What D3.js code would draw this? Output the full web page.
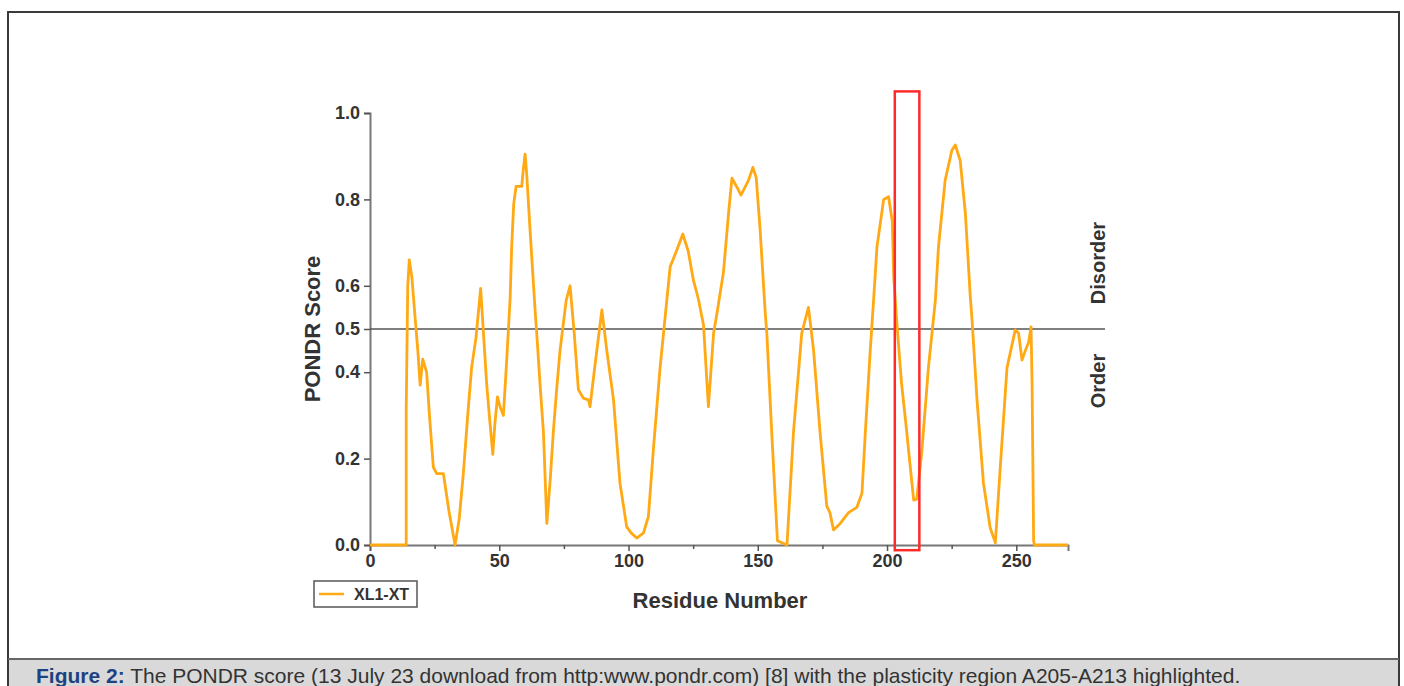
<!DOCTYPE html>
<html lang="en">
<head>
<meta charset="utf-8">
<title>PONDR score</title>
<script src="https://cdn.jsdelivr.net/npm/d3@7"></script>
<style>
  body { margin: 0; background: #fff; }
  svg { display: block; font-family: "Liberation Sans", Arial, Helvetica, sans-serif; }
</style>
</head>
<body>
<script>
// residue positions and PONDR scores
var residues = [
  0, 14, 14, 14.6, 15.2, 16.2, 17.4, 18.5, 19.4, 20.4,
  21.9, 23, 24.5, 25.8, 28.4, 30.5, 32.9, 34.5, 36.1, 37.8,
  39.3, 41, 42.8, 44, 45.1, 46.3, 47.5, 48.3, 49.3, 50.3,
  51.6, 52.8, 54.2, 54.8, 55.6, 56.5, 58.7, 59.3, 60, 60.6,
  61.9, 63.9, 64.5, 65.8, 67.1, 68.4, 69.7, 70.9, 72.2, 73.5,
  75.9, 77.4, 79, 80.6, 82.5, 84.5, 85.1, 87.1, 89.7, 91.6,
  94.2, 96.7, 99.3, 101, 103.2, 105.8, 107.7, 109.6, 112.2, 114.2,
  116.1, 118.7, 121, 123.1, 125.1, 127, 129, 130.9, 132.9, 134.2,
  136.7, 138.7, 140, 141.8, 143.5, 146.4, 148.1, 149.4, 150.9, 152.9,
  153.5, 155.4, 157.6, 161.3, 163.8, 167, 169.6, 171.6, 174.1, 176.7,
  177.9, 179.3, 181.9, 185.1, 188.3, 190.3, 191.6, 193.5, 194.8, 196.1,
  198.7, 200.6, 202, 202.6, 203.6, 205.6, 207.3, 209, 210.3, 211.5,
  213.5, 216, 218.7, 219.9, 222.5, 225.1, 226.4, 228.3, 230.3, 232.2,
  232.9, 234.8, 237.3, 239.9, 241.9, 243.8, 246.4, 249.6, 250.9, 252.2,
  253.5, 254.8, 255.7, 256.1, 256.7, 257, 270
];
var scores = [
  0, 0, 0.31, 0.6, 0.66, 0.62, 0.53, 0.45, 0.37, 0.43,
  0.40, 0.30, 0.18, 0.165, 0.165, 0.08, 0.0, 0.06, 0.165, 0.30,
  0.41, 0.48, 0.594, 0.48, 0.375, 0.29, 0.21, 0.28, 0.343, 0.32,
  0.30, 0.42, 0.57, 0.69, 0.79, 0.83, 0.83, 0.87, 0.905, 0.86,
  0.73, 0.54, 0.49, 0.37, 0.26, 0.05, 0.15, 0.26, 0.36, 0.45,
  0.567, 0.60, 0.49, 0.36, 0.34, 0.336, 0.32, 0.42, 0.544, 0.45,
  0.336, 0.143, 0.042, 0.028, 0.016, 0.028, 0.066, 0.22, 0.41, 0.53,
  0.644, 0.683, 0.72, 0.68, 0.613, 0.57, 0.51, 0.32, 0.49, 0.536,
  0.63, 0.768, 0.849, 0.83, 0.81, 0.844, 0.874, 0.85, 0.73, 0.536,
  0.49, 0.26, 0.01, 0.0, 0.26, 0.49, 0.55, 0.45, 0.26, 0.09,
  0.075, 0.035, 0.05, 0.075, 0.087, 0.12, 0.26, 0.45, 0.567, 0.69,
  0.80, 0.806, 0.75, 0.62, 0.53, 0.375, 0.28, 0.18, 0.104, 0.106,
  0.22, 0.41, 0.567, 0.69, 0.845, 0.914, 0.926, 0.89, 0.768, 0.575,
  0.52, 0.336, 0.143, 0.04, 0.005, 0.18, 0.41, 0.498, 0.49, 0.428,
  0.45, 0.47, 0.505, 0.375, 0.01, 0, 0
];
var xTicks = [0, 50, 100, 150, 200, 250];
var xMinorTicks = [25, 75, 125, 175, 225];
var yTicks = [0, 0.2, 0.4, 0.5, 0.6, 0.8, 1.0];
var threshold = 0.5;
var highlight = [203, 212.5];      // plasticity region box (residues)
var highlightScore = [-0.012, 1.05];
var seriesName = "XL1-XT";

var W = 1404, H = 686;

var svg = d3.select("body").append("svg")
    .attr("width", W)
    .attr("height", H);

// outer frame + caption band
svg.append("rect")
    .attr("x", 0).attr("y", 0).attr("width", W).attr("height", H)
    .attr("fill", "#fff");
svg.append("rect")
    .attr("x", 8).attr("y", 659).attr("width", 1391).attr("height", 40)
    .attr("fill", "#d9d9d9");
svg.append("rect")
    .attr("x", 8).attr("y", 12).attr("width", 1391).attr("height", 700)
    .attr("fill", "none")
    .attr("stroke", "#3a3a3a")
    .attr("stroke-width", 2);
svg.append("line")
    .attr("x1", 8).attr("x2", 1399).attr("y1", 659).attr("y2", 659)
    .attr("stroke", "#666").attr("stroke-width", 2);

var cap = svg.append("text")
    .attr("x", 36).attr("y", 683)
    .attr("font-size", "21px")
    .attr("fill", "#333");
cap.append("tspan").attr("font-weight", "bold").attr("fill", "#1d4282").text("Figure 2:");
cap.append("tspan").text(" The PONDR score (13 July 23 download from http:www.pondr.com) [8] with the plasticity region A205-A213 highlighted.");

//scales
var xScale = d3.scaleLinear().domain([0, 270]).range([370, 1068]);
var yScale = d3.scaleLinear().domain([0, 1]).range([545, 113]);

// y axis
svg.append("g")
    .attr("transform", "translate(" + xScale(0) + ",0)")
    .call(d3.axisLeft(yScale).tickValues(yTicks).tickFormat(d3.format(".1f")).tickSize(6).tickPadding(4));

// x axis
svg.append("g")
    .attr("transform", "translate(0," + yScale(0) + ")")
    .call(d3.axisBottom(xScale).tickValues(xTicks).tickFormat(d3.format("d")).tickSize(6).tickPadding(3));

svg.append("g")
    .attr("transform", "translate(0," + yScale(0) + ")")
    .call(d3.axisBottom(xScale).tickValues(xMinorTicks).tickFormat("").tickSize(4))
    .select(".domain").remove();

svg.selectAll(".domain").attr("stroke", "#777").attr("stroke-width", 2);
svg.selectAll(".tick line").attr("stroke", "#555").attr("stroke-width", 1.5);
svg.selectAll(".tick text")
    .attr("font-family", "Liberation Sans, Arial, sans-serif")
    .attr("font-size", "18px")
    .attr("font-weight", "bold")
    .attr("fill", "#333");

// threshold line
svg.append("line")
    .attr("x1", xScale(0)).attr("x2", 1105)
    .attr("y1", yScale(threshold)).attr("y2", yScale(threshold))
    .attr("stroke", "#555").attr("stroke-width", 1.5);

// the curve
var pts = residues.map(function (r, i) { return [r, scores[i]]; });
svg.append("path")
    .datum(pts)
    .attr("d", d3.line()
        .x(function (d) { return xScale(d[0]); })
        .y(function (d) { return yScale(d[1]); }))
    .attr("fill", "none")
    .attr("stroke", "#ffa914")
    .attr("stroke-width", 2.8)
    .attr("stroke-linejoin", "round");

// highlighted region
svg.append("rect")
    .attr("x", xScale(highlight[0]))
    .attr("y", yScale(highlightScore[1]))
    .attr("width", xScale(highlight[1]) - xScale(highlight[0]))
    .attr("height", yScale(highlightScore[0]) - yScale(highlightScore[1]))
    .attr("fill", "none")
    .attr("stroke", "#ff2a2a")
    .attr("stroke-width", 2.5);

// axis titles
svg.append("text")
    .attr("x", 720).attr("y", 608)
    .attr("text-anchor", "middle")
    .attr("font-size", "22px").attr("font-weight", "bold").attr("fill", "#333")
    .text("Residue Number");

svg.append("text")
    .attr("transform", "translate(320,329) rotate(-90)")
    .attr("text-anchor", "middle")
    .attr("font-size", "22px").attr("font-weight", "bold").attr("fill", "#333")
    .text("PONDR Score");

svg.append("text")
    .attr("transform", "translate(1105,263) rotate(-90)")
    .attr("text-anchor", "middle")
    .attr("font-size", "20px").attr("font-weight", "bold").attr("fill", "#333")
    .text("Disorder");

svg.append("text")
    .attr("transform", "translate(1105,381) rotate(-90)")
    .attr("text-anchor", "middle")
    .attr("font-size", "20px").attr("font-weight", "bold").attr("fill", "#333")
    .text("Order");

// legend
svg.append("rect")
    .attr("x", 314).attr("y", 581).attr("width", 103).attr("height", 26)
    .attr("fill", "#fff").attr("stroke", "#555").attr("stroke-width", 1.5);
svg.append("line")
    .attr("x1", 319).attr("x2", 344).attr("y1", 594).attr("y2", 594)
    .attr("stroke", "#ffa914").attr("stroke-width", 2.5);
svg.append("text")
    .attr("x", 354).attr("y", 600)
    .attr("font-size", "16px").attr("font-weight", "bold").attr("fill", "#333")
    .text(seriesName);
</script>
</body>
</html>
